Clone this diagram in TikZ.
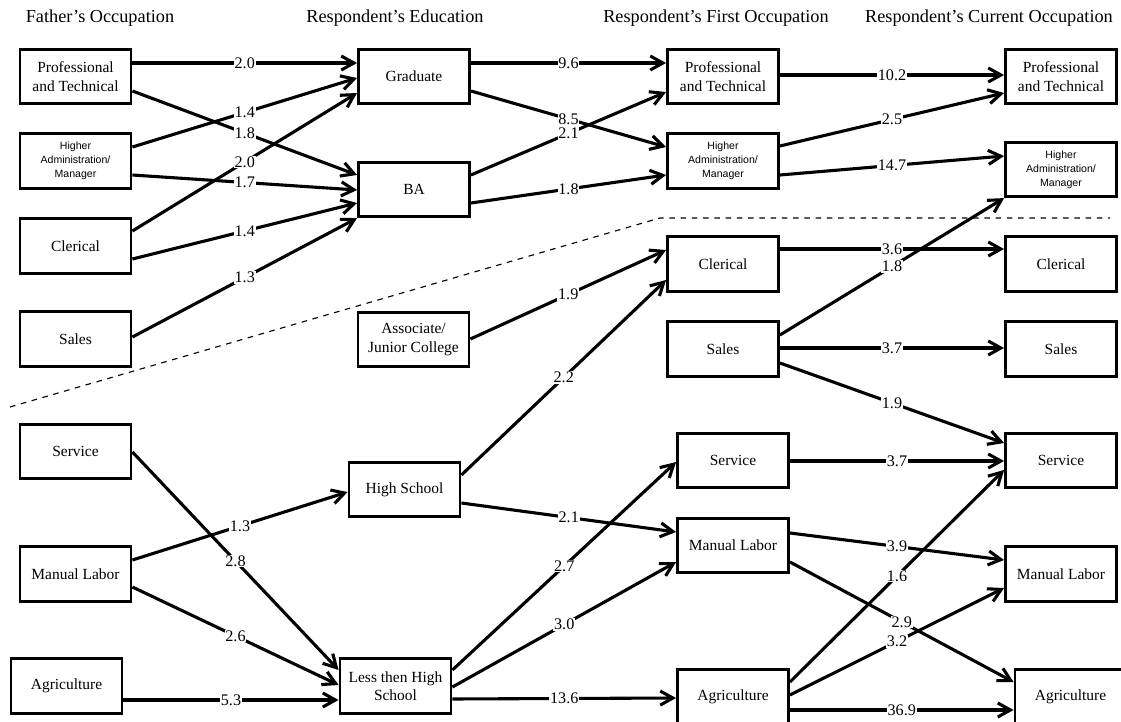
\documentclass[tikz,border=0pt]{standalone}
\usepackage{fontspec}
\setmainfont{Liberation Serif}
\setsansfont{Liberation Sans}
\usetikzlibrary{arrows.meta}
\begin{document}
\begin{tikzpicture}[x=0.025cm, y=-0.025cm,
  box/.style={draw, line width=2pt, minimum width=2.775cm, minimum height=1.36cm, align=center, inner sep=1pt, font=\fontsize{11}{13}\selectfont},
  smallbox/.style={box, font=\sffamily\fontsize{7.5}{10}\selectfont},
  head/.style={font=\fontsize{13}{15}\selectfont},
  link/.style={line width=2.2pt, -{Straight Barb[length=9pt,width=10pt]}},
  val/.style={midway, fill=white, inner sep=0.6pt, font=\fontsize{11.5}{13}\selectfont}]
\useasboundingbox (0,0) rectangle (1121,722);
\node[head] (hfather) at (100,18) {Father's Occupation};
\node[head] (hedu) at (395,18) {Respondent's Education};
\node[head] (hfirst) at (716,18) {Respondent's First Occupation};
\node[head] (hcurr) at (989,18) {Respondent's Current Occupation};
\node[box] (fprof) at (75.5,76.5) {Professional\\and Technical};
\node[smallbox] (fhigh) at (75.5,161) {Higher\\Administration/\\Manager};
\node[box] (fcler) at (75.5,246) {Clerical};
\node[box] (fsales) at (75.5,339) {Sales};
\node[box] (fserv) at (75.5,451.5) {Service};
\node[box] (fman) at (75.5,574) {Manual Labor};
\node[box] (fagr) at (66.5,686) {Agriculture};
\node[box] (grad) at (414,76.5) {Graduate};
\node[box] (ba) at (414,189.5) {BA};
\node[box] (assoc) at (413.5,339.5) {Associate/\\Junior College};
\node[box] (hs) at (404.5,489.5) {High School};
\node[box] (lths) at (395.5,686) {Less then High\\School};
\node[box] (sprof) at (723,76.5) {Professional\\and Technical};
\node[smallbox] (shigh) at (723,161) {Higher\\Administration/\\Manager};
\node[box] (scler) at (723,264) {Clerical};
\node[box] (ssales) at (723,349) {Sales};
\node[box] (sserv) at (733,460.5) {Service};
\node[box] (sman) at (733,545.5) {Manual Labor};
\node[box] (sagr) at (733,697) {Agriculture};
\node[box] (cprof) at (1061,76.5) {Professional\\and Technical};
\node[smallbox] (chigh) at (1061,169.5) {Higher\\Administration/\\Manager};
\node[box] (ccler) at (1061,264) {Clerical};
\node[box] (csales) at (1061,349) {Sales};
\node[box] (cserv) at (1061,460.5) {Service};
\node[box] (cman) at (1061,574) {Manual Labor};
\node[box] (cagr) at (1070.5,697) {Agriculture};
\draw[dashed, line width=0.8pt, dash pattern=on 4pt off 4pt] (10,407) -- (660,218) -- (1110,218);
\draw[link] (fprof.east |- 0,63) -- node[val] {2.0} (grad.west |- 0,63);
\draw[link] (fprof.east |- 0,91) -- node[val] {1.8} (ba.west |- 0,175);
\draw[link] (fhigh.east |- 0,147) -- node[val] {1.4} (grad.west |- 0,78);
\draw[link] (fhigh.east |- 0,175) -- node[val] {1.7} (ba.west |- 0,190);
\draw[link] (fcler.east |- 0,231) -- node[val] {2.0} (grad.west |- 0,93);
\draw[link] (fcler.east |- 0,259) -- node[val] {1.4} (ba.west |- 0,203);
\draw[link] (fsales.east |- 0,337) -- node[val] {1.3} (ba.south west);
\draw[link] (fserv.east |- 0,452) -- node[val] {2.8} (lths.west |- 0,670);
\draw[link] (fman.east |- 0,560) -- node[val] {1.3} (hs.west |- 0,492);
\draw[link] (fman.east |- 0,587) -- node[val] {2.6} (lths.west |- 0,685);
\draw[link] (fagr.east |- 0,700) -- node[val] {5.3} (lths.west |- 0,700);
\draw[link] (grad.east |- 0,63) -- node[val] {9.6} (sprof.west |- 0,63);
\draw[link] (grad.east |- 0,91) -- node[val] {8.5} (shigh.west |- 0,147);
\draw[link] (ba.east |- 0,175) -- node[val] {2.1} (sprof.west |- 0,92);
\draw[link] (ba.east |- 0,203) -- node[val] {1.8} (shigh.west |- 0,175);
\draw[link] (assoc.east |- 0,339) -- node[val] {1.9} (scler.west |- 0,250);
\draw[link] (hs.east |- 0,475) -- node[val] {2.2} (scler.west |- 0,280);
\draw[link] (hs.east |- 0,503) -- node[val] {2.1} (sman.west |- 0,532);
\draw[link] (lths.east |- 0,670) -- node[val] {2.7} (sserv.west |- 0,462);
\draw[link] (lths.east |- 0,687) -- node[val] {3.0} (sman.west |- 0,562);
\draw[link] (lths.east |- 0,699) -- node[val] {13.6} (sagr.west |- 0,698);
\draw[link] (sprof.east |- 0,75) -- node[val] {10.2} (cprof.west |- 0,75);
\draw[link] (shigh.east |- 0,146) -- node[val] {2.5} (cprof.west |- 0,93);
\draw[link] (shigh.east |- 0,175) -- node[val] {14.7} (chigh.west |- 0,156);
\draw[link] (scler.east |- 0,249) -- node[val] {3.6} (ccler.west |- 0,249);
\draw[link] (ssales.east |- 0,335) -- node[val] {1.8} (chigh.south west);
\draw[link] (ssales.east |- 0,348) -- node[val] {3.7} (csales.west |- 0,348);
\draw[link] (ssales.east |- 0,363) -- node[val] {1.9} (cserv.west |- 0,443);
\draw[link] (sserv.east |- 0,461) -- node[val] {3.7} (cserv.west |- 0,461);
\draw[link] (sman.east |- 0,533) -- node[val] {3.9} (cman.west |- 0,560);
\draw[link] (sman.east |- 0,562) -- node[val] {2.9} (cagr.west |- 0,682);
\draw[link] (sagr.east |- 0,682) -- node[val] {1.6} (cserv.west |- 0,470);
\draw[link] (sagr.east |- 0,695) -- node[val] {3.2} (cman.west |- 0,588);
\draw[link] (sagr.east |- 0,710) -- node[val] {36.9} (cagr.west |- 0,710);
\end{tikzpicture}
\end{document}
